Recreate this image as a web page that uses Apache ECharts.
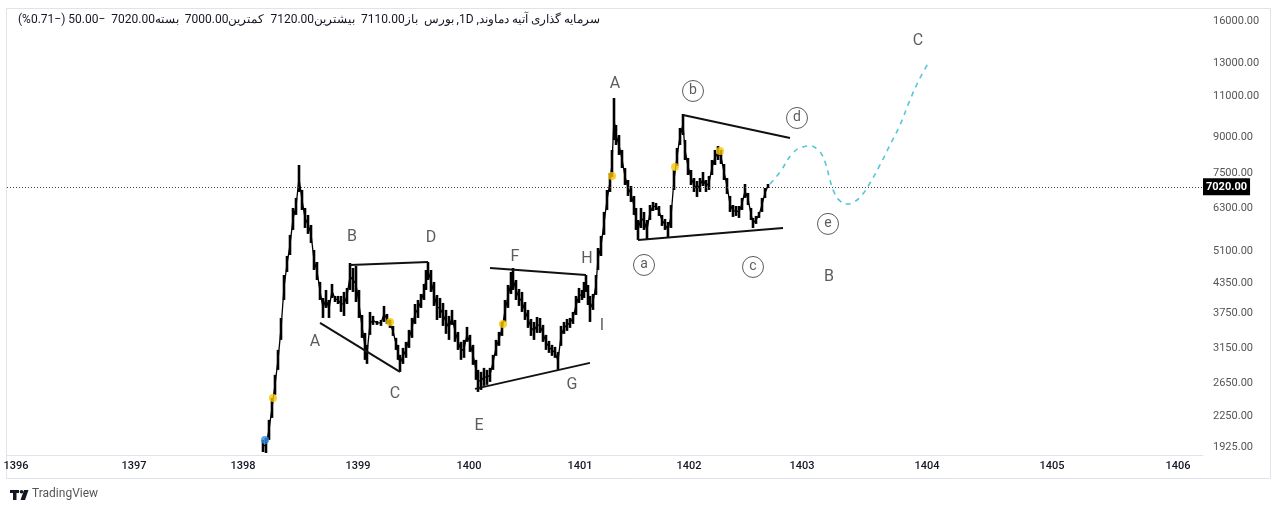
<!DOCTYPE html>
<html><head><meta charset="utf-8">
<script src="https://cdn.jsdelivr.net/npm/echarts@6/dist/echarts.min.js"></script>
<style>html,body{margin:0;padding:0;background:#fff}#c{width:1280px;height:513px}</style>
</head><body><div id="c"></div>
<script>
// ---- axis ticks ----
const yearLabels = ['1396','1397','1398','1399','1400','1401','1402','1403','1404','1405','1406'];
const yearBars = [18,254,472,702,924,1146,1364,1590,1840,2090,2342];
const priceTicks = [16000,13000,11000,9000,7500,6300,5100,4350,3750,3150,2650,2250,1925];
const lastPrice = 7020;

// ---- price bars (bar index, low, high) ----
const barIdx = [512,518,524,530,536,542,548,554,560,566,572,578,584,590,596,602,608,614,620,626,632,638,644,650,656,662,668,674,680,686,692,698,704,710,716,720,726,732,740,748,754,760,766,772,778,782,786,792,798,804,810,816,822,828,834,838,842,848,854,860,866,872,878,884,890,896,902,908,914,920,926,932,938,942,948,954,960,966,972,978,984,990,996,1002,1008,1012,1018,1024,1030,1036,1042,1048,1054,1060,1066,1072,1078,1084,1090,1096,1102,1108,1114,1120,1126,1132,1138,1144,1150,1154,1158,1162,1166,1172,1178,1182,1188,1194,1200,1206,1210,1214,1218,1224,1230,1236,1242,1248,1254,1258,1262,1268,1274,1280,1286,1292,1298,1304,1310,1316,1322,1328,1334,1340,1346,1352,1356,1362,1368,1374,1380,1386,1392,1398,1404,1410,1416,1422,1428,1434,1440,1446,1452,1458,1464,1470,1476,1482,1488,1492,1498,1504,1510,1516,1522];
const barLow = [1880,1871,1996,2227,2497,2827,3281,4001,4598,5003,5666,6104,6843,6257,5722,5555,5310,4644,4419,4001,3659,3846,3659,4041,3961,3922,3770,3696,3922,4205,4164,3961,3659,3314,2971,2912,3364,3535,3535,3517,3587,3552,3483,3347,3122,2971,2799,2912,3001,3153,3314,3552,3659,3846,4001,4205,4419,4164,3884,3623,3659,3517,3381,3281,3535,3249,3122,2971,3001,3249,3091,2898,2690,2534,2559,2611,2624,2663,2827,3031,3185,3347,3587,3846,4122,4205,4001,3884,3770,3623,3483,3347,3281,3397,3397,3249,3122,3076,3031,3001,2827,3185,3381,3431,3483,3552,3714,3942,4001,4041,4164,3903,3587,3808,4102,4644,4978,5527,6257,6843,7372,8859,8642,8223,7706,7084,6708,6511,6104,5666,5391,5722,5666,5391,5954,6226,6257,6074,5780,5666,5445,5722,6911,7785,8642,9082,8021,7445,7084,6843,6675,6843,7049,6843,6911,7445,7824,8021,7863,7262,6775,6196,6044,6074,6014,6257,6642,6414,5954,5722,5838,6014,6196,6642,6980];
const barHigh = [1996,2016,2205,2459,2758,3122,3659,4530,4978,5527,6320,6642,7824,6911,6320,6104,5808,5129,4832,4376,4041,4205,4001,4333,4082,4082,4082,4164,4247,4808,4690,4737,4205,3714,3397,3201,3770,3696,3605,3623,3884,3733,3623,3517,3314,3201,3046,3153,3249,3448,3659,3922,4001,4122,4333,4644,4832,4644,4376,4102,4041,3942,3808,3696,3808,3623,3414,3249,3281,3500,3364,3201,2971,2827,2799,2855,2827,2855,3046,3281,3414,3587,4001,4311,4598,4690,4419,4226,4164,3961,3808,3641,3587,3677,3659,3535,3364,3265,3201,3169,3091,3517,3587,3641,3659,3770,4082,4247,4205,4376,4530,4311,4082,4122,4530,5180,5500,6196,6911,7519,8431,10914,9544,9082,8431,7706,7262,7049,6708,6320,5954,6320,6196,5954,6414,6511,6479,6382,6104,5984,5895,6414,7632,8515,9404,10080,8859,8102,7632,7334,7226,7334,7557,7262,7407,8021,8431,8599,8431,7863,7334,6708,6414,6382,6382,6642,7119,6809,6320,6014,6074,6196,6642,6980,7120];

// ---- wave labels ----
const waveLetters = ['A','B','C','D','E','F','G','H','I','A','B','C'];
const waveLetterBar = [616,690,776,848,944,1016,1130,1160,1190,1216,1644,1822];
const waveLetterPrice = [3249,5472,2509,5445,2140,4954,2624,4905,3517,11699,4486,14487];
const subLetters = ['a','b','c','d','e'];
const subLetterBar = [1274,1372,1492,1580,1642];
const subLetterPrice = [4761,11300,4714,9882,5838];

// ---- trend lines ----
const trendStartBar = [626,686,936,966,1262,1352];
const trendStartPrice = [3570,4761,2572,4690,5391,10030];
const trendEndBar = [786,842,1166,1158,1552,1566];
const trendEndPrice = [2799,4832,2927,4530,5722,8947];

// ---- projected path ----
const projBar = [1526,1546,1572,1592,1606,1620,1630,1638,1646,1654,1666,1680,1694,1710,1726,1746,1766,1786,1806,1826,1844];
const projPrice = [7119,7557,8306,8557,8599,8473,8223,7824,7262,6843,6544,6446,6511,6741,7155,7824,8642,9544,10806,12054,13051];

// ---- event markers ----
const yellowBar = [532,766,992,1210,1336,1426];
const yellowPrice = [2459,3587,3552,7408,7746,8389];
const blueBar = [516];
const bluePrice = [1996];

const titleText = 'سرمایه گذاری آتیه دماوند, 1D, بورس  باز7110.00  بیشترین7120.00  کمترین7000.00  بسته7020.00  −50.00 (−0.71%)';

const FONT = 'Roboto, "Noto Sans", sans-serif';
const chart = echarts.init(document.getElementById('c'), null, {renderer:'canvas'});

const barData = barIdx.map((t,i)=>[t, barLow[i], barHigh[i]]);
const midData = barIdx.map((t,i)=>[t, Math.sqrt(barLow[i]*barHigh[i])]);
const trendSeries = trendStartBar.map((t,i)=>({
  type:'line', silent:true, symbol:'none', z:4,
  lineStyle:{color:'#111', width:2},
  data:[[t, trendStartPrice[i]],[trendEndBar[i], trendEndPrice[i]]]
}));

const tickMarkLines = priceTicks.map(v=>({
  yAxis:v,
  lineStyle:{color:'rgba(0,0,0,0)', width:0},
  label:{show:true, position:'end', distance:10, formatter:v.toFixed(2), color:'#555', fontSize:11, fontFamily:FONT}
}));
tickMarkLines.push({
  yAxis:lastPrice,
  lineStyle:{color:'#444', width:1, type:[1,2]},
  label:{show:true, position:'end', distance:0, formatter:lastPrice.toFixed(2), color:'#fff', backgroundColor:'#000',
         padding:[3,3,3,3], fontWeight:'bold', fontSize:11, fontFamily:FONT}
});

const option = {
  animation:false,
  backgroundColor:'#fff',
  grid:{left:7, right:77, top:8, bottom:58, outerBoundsMode:'none', containLabel:false},
  xAxis:{
    type:'value', min:0, max:2392,
    axisLine:{show:true, lineStyle:{color:'#e0e3eb'}},
    axisTick:{show:false},
    splitLine:{show:false},
    axisLabel:{
      customValues:yearBars,
      formatter:(v)=>{const k=yearBars.indexOf(v); return k>=0?yearLabels[k]:'';},
      color:'#131722', fontSize:11, fontFamily:FONT, margin:6, fontWeight:500
    }
  },
  yAxis:{
    type:'log', logBase:10, min:1852, max:17067, position:'right',
    axisLine:{show:false}, axisTick:{show:false}, splitLine:{show:false},
    axisLabel:{show:false}
  },
  series:[
    {
      type:'custom', name:'price', z:3,
      renderItem:(params, api)=>{
        const top = api.coord([api.value(0), api.value(2)]);
        const bot = api.coord([api.value(0), api.value(1)]);
        return {type:'rect', shape:{x:top[0]-1.3, y:top[1], width:2.6, height:Math.max(1,bot[1]-top[1])},
                style:{fill:'#000'}};
      },
      encode:{x:0, y:[1,2]},
      data:barData,
      markLine:{silent:true, symbol:'none', animation:false, data:tickMarkLines}
    },
    {
      type:'line', name:'close', silent:true, symbol:'none', z:3,
      lineStyle:{color:'#000', width:1.3},
      data:midData
    },
    ...trendSeries,
    {
      type:'line', name:'projection', silent:true, symbol:'none', smooth:0.5, z:4,
      lineStyle:{color:'#56c6d9', width:1.6, type:[5,5]},
      data:projBar.map((t,i)=>[t, projPrice[i]])
    },
    {
      type:'scatter', name:'dividend', symbol:'circle', symbolSize:8, z:6,
      itemStyle:{color:'#f7c600'},
      data:yellowBar.map((t,i)=>[t, yellowPrice[i]])
    },
    {
      type:'scatter', name:'split', symbol:'circle', symbolSize:8, z:6,
      itemStyle:{color:'#2e8fe8'},
      data:blueBar.map((t,i)=>[t, bluePrice[i]])
    },
    {
      type:'scatter', name:'waves', symbolSize:0, z:7, silent:true,
      label:{show:true, position:'inside', formatter:(p)=>p.data[2], color:'#333', fontSize:16, fontFamily:FONT},
      data:waveLetterBar.map((t,i)=>[t, waveLetterPrice[i], waveLetters[i]])
    },
    {
      type:'scatter', name:'subwaves', symbol:'circle', symbolSize:21, z:7, silent:true,
      itemStyle:{color:'#fff', borderColor:'#333', borderWidth:1},
      label:{show:true, position:'inside', formatter:(p)=>p.data[2], color:'#333', fontSize:14, fontFamily:FONT},
      data:subLetterBar.map((t,i)=>[t, subLetterPrice[i], subLetters[i]])
    }
  ],
  graphic:[
    {type:'rect', silent:true, z:-1, shape:{x:6.5, y:8.5, width:1264, height:470}, style:{fill:'none', stroke:'#e0e3eb', lineWidth:1}},
    {type:'text', left:18, top:14, style:{text:'\u2067' + titleText + '\u2069', fill:'#131722', font:'12px '+FONT}},
    {type:'rect', shape:{x:10, y:490, width:9, height:3}, style:{fill:'#131722'}},
    {type:'rect', shape:{x:13, y:490, width:3.5, height:10}, style:{fill:'#131722'}},
    {type:'circle', shape:{cx:21.5, cy:491.8, r:1.8}, style:{fill:'#131722'}},
    {type:'polygon', shape:{points:[[24,490],[28.5,490],[25,500],[20.5,500]]}, style:{fill:'#131722'}},
    {type:'text', left:32, top:488, style:{text:'TradingView', fill:'#555', font:'12px '+FONT}}
  ]
};
chart.setOption(option);
</script></body></html>
